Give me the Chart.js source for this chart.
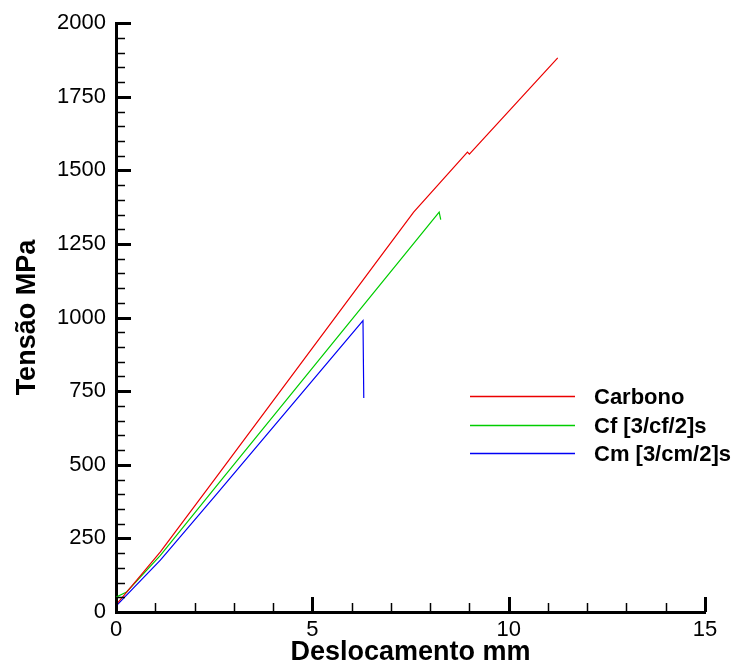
<!DOCTYPE html>
<html>
<head>
<meta charset="utf-8">
<title>Tensão x Deslocamento</title>
<script src="https://cdn.jsdelivr.net/npm/chart.js@4/dist/chart.umd.min.js"></script>
<style>
  html, body { margin: 0; padding: 0; background: #fff; }
</style>
</head>
<body>
<canvas id="myChart" width="744" height="671"></canvas>
<script>
'use strict';

// Deslocamento (mm) / Tensão (MPa) por laminado
const carbonoX = [0, 1.13, 2.53, 5.0, 6.73, 7.58, 8.95, 9.0, 11.25];
const carbonoY = [24, 204, 454, 896, 1206, 1358, 1562, 1555, 1882];

const cfX = [0, 0.27, 1.13, 2.53, 8.23, 8.27];
const cfY = [50, 68, 192, 423, 1358, 1333];

const cmX = [0, 1.13, 2.53, 6.29, 6.31];
const cmY = [20, 176, 395, 990, 727];

const seriesLabels = ['Carbono', 'Cf [3/cf/2]s', 'Cm [3/cm/2]s'];
const seriesColors = ['rgb(235,0,0)', 'rgb(0,205,0)', 'rgb(0,0,245)'];

const xTicks = { min: 0, max: 15, step: 5, minor: 1 };
const yTicks = { min: 0, max: 2000, step: 250, minor: 50 };

const FONT = '"Liberation Sans", Arial, Helvetica, sans-serif';
Chart.defaults.font.family = FONT;
Chart.defaults.color = '#000';

function toPoints(xs, ys) {
  return xs.map((x, i) => ({ x: x, y: ys[i] }));
}

// ticks drawn inward from the axis lines, majors and minors
const innerTicks = {
  id: 'innerTicks',
  afterDraw(chart) {
    const { ctx, chartArea, scales: { x, y } } = chart;
    ctx.save();
    ctx.strokeStyle = '#000';
    ctx.lineCap = 'butt';
    for (let v = xTicks.min; v <= xTicks.max + 1e-9; v += xTicks.minor) {
      const major = Math.abs(v % xTicks.step) < 1e-9;
      const px = Math.round(x.getPixelForValue(v)) + 0.5;
      ctx.lineWidth = major ? 3 : 1.5;
      ctx.beginPath();
      ctx.moveTo(px, chartArea.bottom);
      ctx.lineTo(px, chartArea.bottom - (major ? 15 : 9));
      ctx.stroke();
    }
    for (let v = yTicks.min; v <= yTicks.max + 1e-9; v += yTicks.minor) {
      const major = Math.abs(v % yTicks.step) < 1e-9;
      const py = Math.round(y.getPixelForValue(v)) + 0.5;
      ctx.lineWidth = major ? 3 : 1.5;
      ctx.beginPath();
      ctx.moveTo(chartArea.left, py);
      ctx.lineTo(chartArea.left + (major ? 15 : 9), py);
      ctx.stroke();
    }
    ctx.restore();
  }
};

// legend sitting inside the plot, right side
const insideLegend = {
  id: 'insideLegend',
  afterDraw(chart) {
    const ctx = chart.ctx;
    const x0 = 470, x1 = 575, tx = 594, top = 396, gap = 28.5;
    ctx.save();
    ctx.font = 'bold 22px ' + FONT;
    ctx.textBaseline = 'middle';
    ctx.textAlign = 'left';
    chart.data.datasets.forEach((ds, i) => {
      const yy = Math.round(top + i * gap) + 0.5;
      ctx.strokeStyle = ds.borderColor;
      ctx.lineWidth = 1.3;
      ctx.beginPath();
      ctx.moveTo(x0, yy);
      ctx.lineTo(x1, yy);
      ctx.stroke();
      ctx.fillStyle = '#000';
      ctx.fillText(ds.label, tx, yy + 1);
    });
    ctx.restore();
  }
};

const chartData = {
  datasets: [
    { label: seriesLabels[0], data: toPoints(carbonoX, carbonoY), borderColor: seriesColors[0] },
    { label: seriesLabels[1], data: toPoints(cfX, cfY), borderColor: seriesColors[1] },
    { label: seriesLabels[2], data: toPoints(cmX, cmY), borderColor: seriesColors[2] }
  ].map(ds => Object.assign(ds, {
    showLine: true,
    fill: false,
    borderWidth: 1.2,
    pointRadius: 0,
    tension: 0
  }))
};

const plainNumber = v => String(v);

new Chart('myChart', {
  type: 'scatter',
  data: chartData,
  options: {
    responsive: false,
    animation: false,
    layout: { padding: { left: 0, top: 20, right: 39, bottom: 0 } },
    plugins: {
      legend: { display: false },
      tooltip: { enabled: false }
    },
    scales: {
      x: {
        type: 'linear',
        min: xTicks.min,
        max: xTicks.max,
        afterFit(scale) { scale.height = 59; },
        ticks: { stepSize: xTicks.step, padding: 5, font: { size: 22 }, callback: plainNumber },
        grid: { display: false, drawTicks: false },
        border: { display: true, width: 3, color: '#000' },
        title: {
          display: true,
          text: 'Deslocamento mm',
          font: { size: 27, weight: 'bold' },
          padding: { top: 0, bottom: 2 }
        }
      },
      y: {
        type: 'linear',
        min: yTicks.min,
        max: yTicks.max,
        afterFit(scale) { scale.width = 116; },
        ticks: { stepSize: yTicks.step, padding: 10, font: { size: 22 }, callback: plainNumber },
        grid: { display: false, drawTicks: false },
        border: { display: true, width: 3, color: '#000' },
        title: {
          display: true,
          text: 'Tensão MPa',
          font: { size: 27, weight: 'bold' },
          padding: { top: 11, bottom: 0 }
        }
      }
    }
  },
  plugins: [innerTicks, insideLegend]
});
</script>
</body>
</html>
